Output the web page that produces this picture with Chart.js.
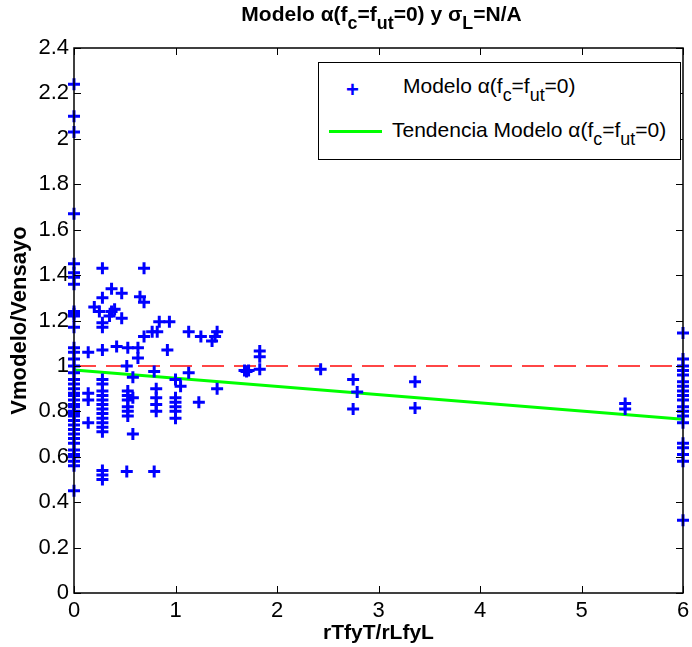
<!DOCTYPE html>
<html>
<head>
<meta charset="utf-8">
<script src="https://cdn.jsdelivr.net/npm/chart.js@4.4.1/dist/chart.umd.min.js"></script>
<style>
  body { margin: 0; background: #fff; }
  #wrap { position: relative; width: 692px; height: 647px; font-family: "Liberation Sans", Arial, sans-serif; }
  #title { position: absolute; left: 74px; width: 615px; top: 2px; text-align: center; font-weight: bold; font-size: 21px; }
  #legend { position: absolute; left: 318px; top: 62px; width: 361px; height: 96px; border: 1px solid #000; background: #fff; font-size: 21px; }
  #legend .row { position: absolute; left: 0; height: 30px; line-height: 30px; white-space: nowrap; }
  #legend .mark { position: absolute; color: #0000ff; font-weight: bold; font-size: 22px; }
  #legend .line { position: absolute; height: 3px; background: #00ff00; }
  sub { font-size: 0.85em; vertical-align: -0.45em; line-height: 0; }
</style>
</head>
<body>
<div id="wrap">
  <canvas id="myChart" width="692" height="647"></canvas>
  <div id="title">Modelo α(f<sub>c</sub>=f<sub>ut</sub>=0) y σ<sub>L</sub>=N/A</div>
  <div id="legend">
    <span class="mark" style="left:27px; top:14px;">+</span>
    <div class="row" style="left:84px; top:8px;">Modelo α(f<sub>c</sub>=f<sub>ut</sub>=0)</div>
    <span class="line" style="left:10px; top:67px; width:53px;"></span>
    <div class="row" style="left:73px; top:52px;">Tendencia Modelo α(f<sub>c</sub>=f<sub>ut</sub>=0)</div>
  </div>
</div>
<script>
// ensayos con rTfyT/rLfyL = 0
const col0Y = [2.24, 2.10, 2.03, 1.67, 1.45, 1.41, 1.39, 1.36, 1.24, 1.23, 1.22, 1.17,
  1.08, 1.06, 1.03, 1.00, 0.97, 0.94, 0.92, 0.90, 0.88, 0.87, 0.85, 0.83, 0.82, 0.80,
  0.79, 0.78, 0.76, 0.74, 0.72, 0.70, 0.68, 0.66, 0.63, 0.61, 0.60, 0.58, 0.56, 0.45];

// ensayos con rTfyT/rLfyL = 6
const col6Y = [1.145, 1.03, 1.00, 0.98, 0.96, 0.93, 0.91, 0.89, 0.87, 0.85, 0.82, 0.80,
  0.78, 0.75, 0.66, 0.64, 0.61, 0.58, 0.32];

// resto de ensayos
const restX = [0.14, 0.14, 0.14, 0.14, 0.20, 0.25,
  0.28, 0.28, 0.28, 0.28, 0.28, 0.28, 0.28, 0.28, 0.28, 0.28, 0.28, 0.28, 0.28, 0.28, 0.28, 0.28, 0.28, 0.28, 0.28, 0.28,
  0.35, 0.37, 0.37, 0.40, 0.42, 0.47, 0.47, 0.52, 0.52,
  0.53, 0.53, 0.53, 0.53, 0.53, 0.53, 0.53,
  0.58, 0.58, 0.58, 0.63, 0.63, 0.65, 0.69, 0.69, 0.69, 0.77, 0.79, 0.79,
  0.81, 0.81, 0.81, 0.81, 0.82, 0.84, 0.92, 0.94,
  1.00, 1.00, 1.00, 1.00, 1.00, 1.00, 1.05,
  1.13, 1.13, 1.23, 1.25, 1.36, 1.39, 1.41, 1.41,
  1.68, 1.70, 1.72, 1.83, 1.83, 1.83,
  2.43, 2.75, 2.79, 2.75, 3.36, 3.36, 5.43, 5.43];
const restY = [1.06, 0.88, 0.85, 0.75, 1.26, 1.24,
  1.43, 1.30, 1.19, 1.17, 1.07, 0.94, 0.92, 0.89, 0.87, 0.85, 0.83, 0.81, 0.79, 0.77, 0.75, 0.73, 0.71, 0.54, 0.52, 0.50,
  1.22, 1.34, 1.24, 1.25, 1.085, 1.32, 1.21, 1.00, 0.535,
  1.08, 0.89, 0.87, 0.85, 0.82, 0.80, 0.78,
  0.95, 0.86, 0.70, 1.08, 1.035, 1.305, 1.28, 1.43, 1.13, 1.15, 0.975, 0.535,
  0.90, 0.86, 0.83, 0.80, 1.15, 1.195, 1.07, 1.195,
  0.94, 0.86, 0.84, 0.82, 0.80, 0.77, 0.91,
  1.15, 0.97, 0.84, 1.13, 1.11, 1.13, 1.15, 0.90,
  0.98, 0.975, 0.98, 1.066, 1.04, 0.985,
  0.985, 0.94, 0.885, 0.81, 0.93, 0.815, 0.835, 0.81];

// tendencia y referencia
const trendX = [0, 6];
const trendY = [0.982, 0.765];
const refY = 1;

const xTicks = [0, 1, 2, 3, 4, 5, 6];
const yTicks = [0, 0.2, 0.4, 0.6, 0.8, 1, 1.2, 1.4, 1.6, 1.8, 2, 2.2, 2.4];

const puntos = [];
col0Y.forEach(y => puntos.push({ x: 0, y: y }));
restX.forEach((x, i) => puntos.push({ x: x, y: restY[i] }));
col6Y.forEach(y => puntos.push({ x: 6, y: y }));

// caja tipo matlab con marcas hacia dentro
const boxPlugin = {
  id: "box",
  afterDatasetsDraw(chart) {
    const { ctx, chartArea: a, scales } = chart;
    ctx.save();
    ctx.strokeStyle = "#000";
    ctx.lineWidth = 1.5;
    ctx.strokeRect(a.left, a.top, a.right - a.left, a.bottom - a.top);
    ctx.lineWidth = 1;
    ctx.beginPath();
    xTicks.forEach(v => {
      const px = Math.round(scales.x.getPixelForValue(v)) + 0.5;
      ctx.moveTo(px, a.bottom); ctx.lineTo(px, a.bottom - 7);
      ctx.moveTo(px, a.top); ctx.lineTo(px, a.top + 7);
    });
    yTicks.forEach(v => {
      const py = Math.round(scales.y.getPixelForValue(v)) + 0.5;
      ctx.moveTo(a.left, py); ctx.lineTo(a.left + 7, py);
      ctx.moveTo(a.right, py); ctx.lineTo(a.right - 7, py);
    });
    ctx.stroke();
    ctx.restore();
  }
};

const fuente = "'Liberation Sans', Arial, sans-serif";

new Chart(document.getElementById("myChart"), {
  type: "scatter",
  data: {
    datasets: [
      {
        label: "Modelo",
        data: puntos,
        pointStyle: "cross",
        radius: 6,
        borderWidth: 3,
        borderColor: "#0000ff",
        backgroundColor: "#0000ff",
        clip: false,
        order: 1
      },
      {
        label: "Referencia",
        type: "line",
        data: [{ x: 0, y: refY }, { x: 6, y: refY }],
        borderColor: "rgb(255,70,70)",
        borderWidth: 2,
        borderDash: [22, 10],
        pointRadius: 0,
        order: 3
      },
      {
        label: "Tendencia",
        type: "line",
        data: trendX.map((x, i) => ({ x: x, y: trendY[i] })),
        borderColor: "#00ff00",
        borderWidth: 3,
        pointRadius: 0,
        order: 2
      }
    ]
  },
  options: {
    responsive: false,
    animation: false,
    layout: { padding: { left: 0, right: 3, top: 48, bottom: 0 } },
    plugins: {
      legend: { display: false },
      tooltip: { enabled: false }
    },
    scales: {
      x: {
        type: "linear",
        min: 0,
        max: 6,
        grid: { display: false, drawTicks: false },
        border: { display: false },
        afterBuildTicks: s => { s.ticks = xTicks.map(v => ({ value: v })); },
        afterFit: s => { s.height = 54; s.paddingLeft = 0; s.paddingRight = 0; },
        ticks: { color: "#000", padding: 5, maxRotation: 0, font: { family: fuente, size: 22 } },
        title: {
          display: true,
          text: "rTfyT/rLfyL",
          color: "#000",
          padding: { top: 0, bottom: 1 },
          font: { family: fuente, size: 21, weight: "bold" }
        }
      },
      y: {
        min: 0,
        max: 2.4,
        grid: { display: false, drawTicks: false },
        border: { display: false },
        afterBuildTicks: s => { s.ticks = yTicks.map(v => ({ value: v })); },
        afterFit: s => { s.width = 74; s.paddingTop = 0; s.paddingBottom = 0; },
        ticks: {
          color: "#000",
          padding: 5,
          font: { family: fuente, size: 22 },
          callback: v => String(Math.round(v * 10) / 10)
        },
        title: {
          display: true,
          text: "Vmodelo/Vensayo",
          color: "#000",
          padding: { top: 7, bottom: 0 },
          font: { family: fuente, size: 22, weight: "bold" }
        }
      }
    }
  },
  plugins: [boxPlugin]
});
</script>
</body>
</html>
